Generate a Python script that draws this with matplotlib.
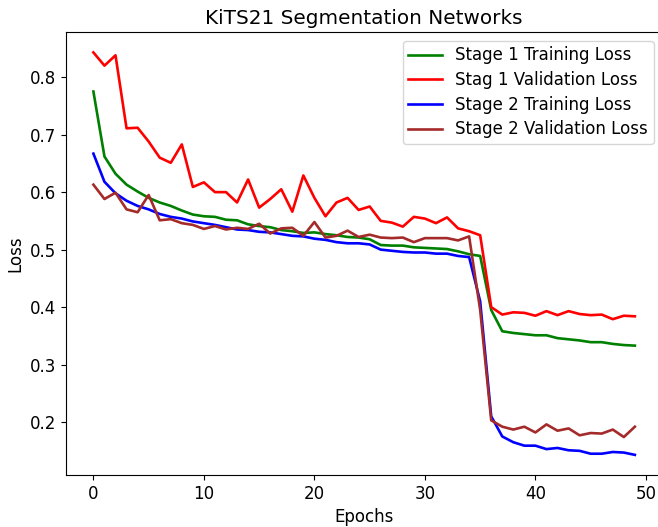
import matplotlib
matplotlib.use("Agg")
import matplotlib.pyplot as plt

epochs = list(range(50))

stage1_train = [0.775, 0.662, 0.632, 0.613, 0.601, 0.590, 0.582, 0.576, 0.568, 0.561,
                0.558, 0.557, 0.552, 0.551, 0.544, 0.541, 0.539, 0.534, 0.532, 0.529,
                0.530, 0.527, 0.525, 0.522, 0.521, 0.518, 0.508, 0.507, 0.507, 0.504,
                0.503, 0.502, 0.501, 0.497, 0.492, 0.489, 0.395, 0.358, 0.355, 0.353,
                0.351, 0.351, 0.346, 0.344, 0.342, 0.339, 0.339, 0.336, 0.334, 0.333]

stage1_val = [0.843, 0.820, 0.838, 0.711, 0.712, 0.688, 0.660, 0.651, 0.683, 0.609,
              0.617, 0.600, 0.600, 0.582, 0.622, 0.573, 0.588, 0.605, 0.566, 0.629,
              0.590, 0.558, 0.582, 0.590, 0.569, 0.575, 0.550, 0.547, 0.540, 0.557,
              0.554, 0.546, 0.556, 0.537, 0.532, 0.525, 0.400, 0.387, 0.391, 0.390,
              0.385, 0.393, 0.386, 0.393, 0.388, 0.386, 0.387, 0.379, 0.385, 0.384]

stage2_train = [0.667, 0.618, 0.598, 0.585, 0.576, 0.570, 0.562, 0.557, 0.554, 0.549,
                0.546, 0.543, 0.539, 0.535, 0.534, 0.531, 0.530, 0.527, 0.524, 0.523,
                0.519, 0.517, 0.513, 0.511, 0.511, 0.509, 0.500, 0.498, 0.496, 0.495,
                0.495, 0.493, 0.493, 0.489, 0.487, 0.410, 0.210, 0.175, 0.165, 0.159,
                0.159, 0.153, 0.155, 0.151, 0.150, 0.145, 0.145, 0.148, 0.147, 0.143]

stage2_val = [0.613, 0.588, 0.599, 0.570, 0.565, 0.595, 0.551, 0.553, 0.546, 0.543,
              0.536, 0.541, 0.535, 0.538, 0.536, 0.545, 0.528, 0.537, 0.538, 0.524,
              0.548, 0.521, 0.524, 0.533, 0.522, 0.526, 0.521, 0.520, 0.521, 0.513,
              0.520, 0.520, 0.520, 0.516, 0.523, 0.395, 0.203, 0.192, 0.187, 0.192,
              0.182, 0.196, 0.185, 0.189, 0.177, 0.181, 0.180, 0.187, 0.174, 0.192]

fs = 12
fig = plt.figure(figsize=(6.58, 5.27), dpi=100)
ax = fig.add_axes([0.1008, 0.0987, 1.006 - 0.1008, 0.9387 - 0.0987])

lw = 1.9
ax.plot(epochs, stage1_train, color="green", lw=lw, label="Stage 1 Training Loss")
ax.plot(epochs, stage1_val, color="red", lw=lw, label="Stag 1 Validation Loss")
ax.plot(epochs, stage2_train, color="blue", lw=lw, label="Stage 2 Training Loss")
ax.plot(epochs, stage2_val, color="brown", lw=lw, label="Stage 2 Validation Loss")

ax.set_title("KiTS21 Segmentation Networks", fontsize=14.4)
ax.set_xlabel("Epochs", fontsize=fs)
ax.set_ylabel("Loss", fontsize=fs)
ax.tick_params(labelsize=fs)
ax.set_xticks([0, 10, 20, 30, 40, 50])
ax.set_yticks([0.2, 0.3, 0.4, 0.5, 0.6, 0.7, 0.8])
ax.legend(loc="upper right", fontsize=fs, labelspacing=0.4, borderpad=0.35)

fig.savefig("out.png", dpi=100)
